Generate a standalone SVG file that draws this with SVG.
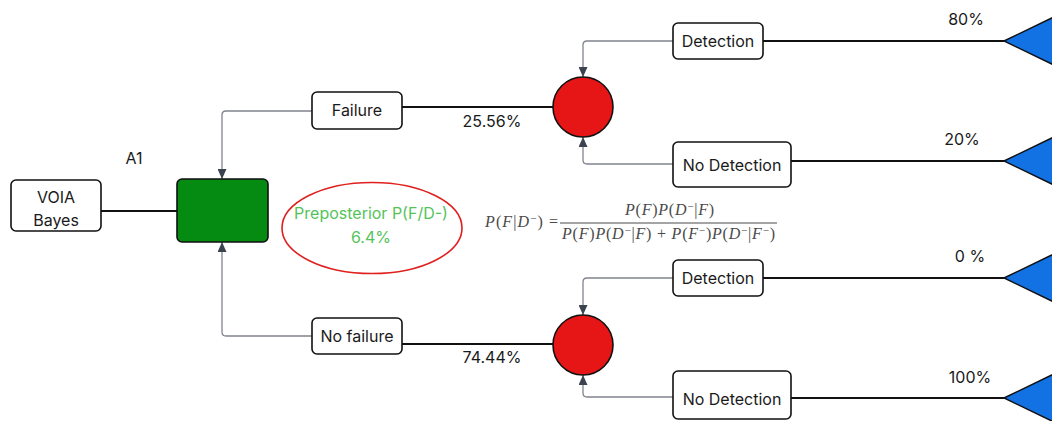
<svg xmlns="http://www.w3.org/2000/svg" width="1052" height="421" viewBox="0 0 1052 421">
  <defs>
    <marker id="arrow" viewBox="0 0 10 9" markerUnits="userSpaceOnUse" markerWidth="10" markerHeight="9" refX="10" refY="4.5" orient="auto">
      <path d="M0,0 L10,4.5 L0,9 z" fill="#3c4350"/>
    </marker>
    <style>
      .box { fill: #ffffff; stroke: #111111; stroke-width: 1.6; }
      .lbl { font-family: Inter, "Liberation Sans", sans-serif; font-size: 16px; fill: #1a1a1a; text-anchor: middle; dominant-baseline: central; }
      .edge { fill: none; stroke: #111111; stroke-width: 1.8; }
      .link { fill: none; stroke: #80858d; stroke-width: 1.3; marker-end: url(#arrow); }
      .chance { fill: #e61616; stroke: #111111; stroke-width: 1.6; }
      .end { fill: #1271e3; stroke: #111111; stroke-width: 1.4; }
      .math { font-family: "Liberation Serif", "DejaVu Serif", serif; font-size: 16px; fill: #4a4a4a; }
      .it { font-style: italic; }
    </style>
  </defs>

  <!-- connectors -->
  <g id="connectors">
    <line class="edge" x1="101" y1="211" x2="177" y2="211"/>
    <line class="edge" x1="402" y1="107" x2="553" y2="107"/>
    <line class="edge" x1="402" y1="344" x2="553" y2="344"/>
    <line class="edge" x1="763" y1="41" x2="1004" y2="41"/>
    <line class="edge" x1="791" y1="161" x2="1004" y2="161"/>
    <line class="edge" x1="763" y1="278" x2="1004" y2="278"/>
    <line class="edge" x1="791" y1="398" x2="1004" y2="398"/>

    <path class="link" d="M312,111 H226 Q222,111 222,115 V179"/>
    <path class="link" d="M312,336 H226 Q222,336 222,332 V242"/>
    <path class="link" d="M673,41 H587 Q583,41 583,45 V77"/>
    <path class="link" d="M673,164 H587 Q583,164 583,160 V137"/>
    <path class="link" d="M673,278 H587 Q583,278 583,282 V315"/>
    <path class="link" d="M673,397 H587 Q583,397 583,393 V375"/>
  </g>

  <!-- branch probabilities -->
  <g id="probabilities">
    <text class="lbl" x="492" y="121">25.56%</text>
    <text class="lbl" x="492" y="357">74.44%</text>
    <text class="lbl" x="966" y="19">80%</text>
    <text class="lbl" x="962" y="139">20%</text>
    <text class="lbl" x="970" y="256">0 %</text>
    <text class="lbl" x="970" y="377">100%</text>
  </g>

  <g id="a1-label">
    <text class="lbl" x="134" y="158">A1</text>
  </g>

  <g id="voia-bayes">
    <rect class="box" x="11" y="180" width="90" height="51" rx="5"/>
    <text class="lbl" x="56" y="197">VOIA</text>
    <text class="lbl" x="56" y="220">Bayes</text>
  </g>

  <g id="decision-a1">
    <rect x="177" y="179" width="91" height="63" rx="5" fill="#058a12" stroke="#111111" stroke-width="1.6"/>
  </g>

  <g id="failure">
    <rect class="box" x="312" y="92" width="90" height="37" rx="5"/>
    <text class="lbl" x="357" y="110">Failure</text>
  </g>

  <g id="no-failure">
    <rect class="box" x="312" y="318" width="90" height="36" rx="5"/>
    <text class="lbl" x="357" y="336">No failure</text>
  </g>

  <g id="chance-failure">
    <circle class="chance" cx="583" cy="107" r="30"/>
  </g>

  <g id="chance-no-failure">
    <circle class="chance" cx="583" cy="345" r="30"/>
  </g>

  <g id="detection-1">
    <rect class="box" x="673" y="23" width="90" height="36" rx="5"/>
    <text class="lbl" x="718" y="41">Detection</text>
  </g>

  <g id="no-detection-1">
    <rect class="box" x="673" y="142" width="118" height="45" rx="5"/>
    <text class="lbl" x="732" y="165">No Detection</text>
  </g>

  <g id="detection-2">
    <rect class="box" x="673" y="260" width="90" height="36" rx="5"/>
    <text class="lbl" x="718" y="278">Detection</text>
  </g>

  <g id="no-detection-2">
    <rect class="box" x="673" y="371" width="118" height="48" rx="5"/>
    <text class="lbl" x="732" y="399">No Detection</text>
  </g>

  <!-- terminal outcomes -->
  <g id="end-1"><polygon class="end" points="1004,41 1060,14 1060,68"/></g>
  <g id="end-2"><polygon class="end" points="1004,161 1060,134 1060,188"/></g>
  <g id="end-3"><polygon class="end" points="1004,278 1060,251 1060,305"/></g>
  <g id="end-4"><polygon class="end" points="1004,398 1060,371 1060,425"/></g>

  <g id="preposterior">
    <ellipse cx="372" cy="228" rx="90" ry="45.5" fill="none" stroke="#e0201f" stroke-width="1.6"/>
    <text class="lbl" x="371" y="213" style="fill:#55c35a">Preposterior P(F/D-)</text>
    <text class="lbl" x="371" y="237" style="fill:#55c35a">6.4%</text>
  </g>

  <!-- Bayes formula -->
  <g id="bayes-formula" class="math">
    <text x="485" y="227" textLength="73" lengthAdjust="spacing"><tspan class="it">P</tspan>(<tspan class="it">F</tspan>|<tspan class="it">D</tspan><tspan font-size="11" dy="-5">−</tspan><tspan dy="5">) =</tspan></text>
    <text x="625" y="215" textLength="89" lengthAdjust="spacing"><tspan class="it">P</tspan>(<tspan class="it">F</tspan>)<tspan class="it">P</tspan>(<tspan class="it">D</tspan><tspan font-size="11" dy="-5">−</tspan><tspan dy="5">|</tspan><tspan class="it">F</tspan>)</text>
    <line x1="560" y1="223" x2="777" y2="223" stroke="#4a4a4a" stroke-width="1"/>
    <text x="562" y="239" textLength="213" lengthAdjust="spacing"><tspan class="it">P</tspan>(<tspan class="it">F</tspan>)<tspan class="it">P</tspan>(<tspan class="it">D</tspan><tspan font-size="11" dy="-5">−</tspan><tspan dy="5">|</tspan><tspan class="it">F</tspan>) + <tspan class="it">P</tspan>(<tspan class="it">F</tspan><tspan font-size="11" dy="-5">−</tspan><tspan dy="5">)</tspan><tspan class="it">P</tspan>(<tspan class="it">D</tspan><tspan font-size="11" dy="-5">−</tspan><tspan dy="5">|</tspan><tspan class="it">F</tspan><tspan font-size="11" dy="-5">−</tspan><tspan dy="5">)</tspan></text>
  </g>
</svg>
